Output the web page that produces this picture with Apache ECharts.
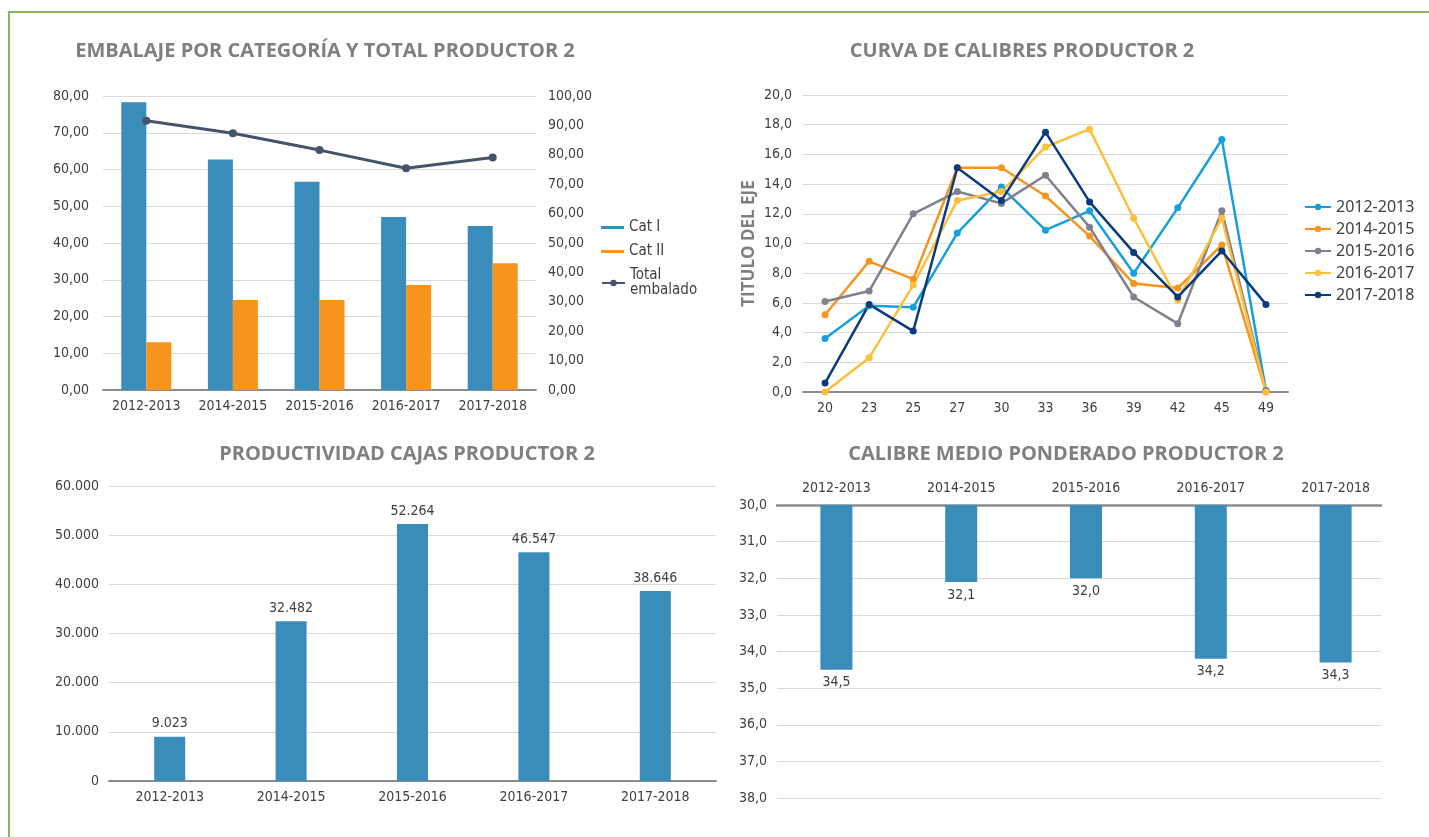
<!DOCTYPE html>
<html>
<head>
<meta charset="utf-8">
<title>Productor 2</title>
<script src="https://cdn.jsdelivr.net/npm/echarts@6/dist/echarts.min.js"></script>
<style>
html, body { margin: 0; padding: 0; background: #fff; }
#marco {
  position: absolute; left: 8px; top: 11px; right: 0; bottom: 0;
  border-left: 2px solid #8db15c; border-top: 2px solid #8db15c;
}
#graficos { position: absolute; left: 0; top: 0; width: 1429px; height: 837px; }
</style>
</head>
<body>
<div id="marco"></div>
<div id="graficos"></div>
<script>
// datos
var temporadas = ["2012-2013", "2014-2015", "2015-2016", "2016-2017", "2017-2018"];
var catI = [78.3, 62.7, 56.7, 47.1, 44.6];
var catII = [13.0, 24.5, 24.5, 28.6, 34.5];
var totalEmbalado = [91.6, 87.3, 81.6, 75.4, 79.1];

var calibres = ["20", "23", "25", "27", "30", "33", "36", "39", "42", "45", "49"];
var curva2012 = [3.6, 5.8, 5.7, 10.7, 13.8, 10.9, 12.2, 8.0, 12.4, 17.0, 0.1];
var curva2014 = [5.2, 8.8, 7.6, 15.1, 15.1, 13.2, 10.5, 7.3, 7.0, 9.9, 0.0];
var curva2015 = [6.1, 6.8, 12.0, 13.5, 12.7, 14.6, 11.1, 6.4, 4.6, 12.2, 0.1];
var curva2016 = [0.0, 2.3, 7.2, 12.9, 13.5, 16.5, 17.7, 11.7, 6.2, 11.7, 0.0];
var curva2017 = [0.6, 5.9, 4.1, 15.1, 12.9, 17.5, 12.8, 9.4, 6.4, 9.5, 5.9];

var productividad = [9023, 32482, 52264, 46547, 38646];
var calibreMedio = [34.5, 32.1, 32.0, 34.2, 34.3];

var texto = "#404040";
var rejilla = "#d9d9d9";
var eje = "#8c8c8c";
var azul = "#3a8dba";
var naranja = "#f7941d";
var fuente = '"Liberation Sans Narrow", "DejaVu Sans Condensed", Roboto, sans-serif';
var fuenteTitulo = '"Open Sans", "Noto Sans", sans-serif';

function coma(v, d) { return Number(v).toFixed(d).replace(".", ","); }
function miles(v) { return String(v).replace(/\B(?=(\d{3})+(?!\d))/g, "."); }

var estiloTitulo = { color: "#7f7f7f", fontFamily: fuenteTitulo, fontWeight: "bold", fontSize: 20 };
var etiqueta = { color: texto, fontFamily: fuente, fontSize: 14 };

function ejeCat(grid, datos, extra) {
  return Object.assign({
    type: "category", gridIndex: grid, data: datos,
    axisLine: { lineStyle: { color: eje, width: 2 } },
    axisTick: { show: false },
    axisLabel: Object.assign({ margin: 9, interval: 0 }, etiqueta)
  }, extra || {});
}

var grafico = echarts.init(document.getElementById("graficos"));

grafico.setOption({
  animation: false,
  title: [
    { text: "EMBALAJE POR CATEGORÍA Y TOTAL PRODUCTOR 2", left: 325, top: 41, textAlign: "center", padding: 0, textStyle: estiloTitulo },
    { text: "CURVA DE CALIBRES PRODUCTOR 2", left: 1022, top: 41, textAlign: "center", padding: 0, textStyle: estiloTitulo },
    { text: "PRODUCTIVIDAD CAJAS PRODUCTOR 2", left: 407, top: 444, textAlign: "center", padding: 0, textStyle: estiloTitulo },
    { text: "CALIBRE MEDIO PONDERADO PRODUCTOR 2", left: 1066, top: 444, textAlign: "center", padding: 0, textStyle: estiloTitulo }
  ],
  legend: [
    {
      data: ["Cat I", "Cat II"], left: 596, top: 215, orient: "vertical",
      icon: "rect", itemWidth: 23, itemHeight: 3, itemGap: 9,
      textStyle: { color: texto, fontFamily: fuente, fontSize: 15 }
    },
    {
      data: ["Total embalado"], left: 596, top: 263, orient: "vertical",
      itemWidth: 23, itemHeight: 8,
      textStyle: { color: texto, fontFamily: fuente, fontSize: 15 },
      formatter: function () { return "Total\nembalado"; }
    },
    {
      data: ["2012-2013", "2014-2015", "2015-2016", "2016-2017", "2017-2018"],
      left: 1299, top: 194, orient: "vertical", itemWidth: 26, itemHeight: 8, itemGap: 6,
      textStyle: { color: texto, fontFamily: '"Noto Sans", "Open Sans", sans-serif', fontSize: 16 }
    }
  ],
  grid: [
    { left: 103, top: 96, width: 433, height: 294 },
    { left: 803, top: 95, width: 485, height: 297 },
    { left: 109, top: 486, width: 607, height: 295 },
    { left: 777, top: 505, width: 604, height: 293 },
    { left: 774, top: 505, width: 624, height: 293 }
  ],
  xAxis: [
    ejeCat(0, temporadas),
    ejeCat(1, calibres),
    ejeCat(2, temporadas),
    ejeCat(3, temporadas, {
      position: "top",
      axisLine: { lineStyle: { color: eje, width: 2.5 } },
      axisLabel: { show: false }
    }),
    ejeCat(4, temporadas, {
      position: "top",
      axisLine: { show: false },
      axisLabel: Object.assign({ margin: 10, interval: 0 }, etiqueta)
    })
  ],
  yAxis: [
    {
      type: "value", gridIndex: 0, min: 0, max: 80, interval: 10,
      splitLine: { lineStyle: { color: rejilla } },
      axisLabel: Object.assign({ margin: 14, formatter: function (v) { return coma(v, 2); } }, etiqueta)
    },
    {
      type: "value", gridIndex: 0, position: "right", min: 0, max: 100, interval: 10,
      splitLine: { show: false },
      axisLabel: Object.assign({ margin: 12, formatter: function (v) { return coma(v, 2); } }, etiqueta)
    },
    {
      type: "value", gridIndex: 1, min: 0, max: 20, interval: 2,
      splitLine: { lineStyle: { color: rejilla } },
      axisLabel: Object.assign({ margin: 11, formatter: function (v) { return coma(v, 1); } }, etiqueta),
      name: "TITULO DEL EJE", nameLocation: "middle", nameRotate: 90, nameGap: 45,
      nameTextStyle: { color: "#7f7f7f", fontFamily: fuenteTitulo, fontWeight: "bold", fontSize: 17 }
    },
    {
      type: "value", gridIndex: 2, min: 0, max: 60000, interval: 10000,
      splitLine: { lineStyle: { color: rejilla } },
      axisLabel: Object.assign({ margin: 10, formatter: miles }, etiqueta)
    },
    {
      type: "value", gridIndex: 3, inverse: true, min: 30, max: 38, interval: 1,
      splitLine: { lineStyle: { color: rejilla } },
      axisLabel: Object.assign({ margin: 10, formatter: function (v) { return coma(v, 1); } }, etiqueta)
    },
    { type: "value", gridIndex: 4, inverse: true, min: 30, max: 38, show: false }
  ],
  series: [
    { name: "Cat I", type: "bar", xAxisIndex: 0, yAxisIndex: 0, barWidth: 25, barGap: "0%", itemStyle: { color: azul }, data: catI },
    { name: "Cat II", type: "bar", xAxisIndex: 0, yAxisIndex: 0, barWidth: 25, barGap: "0%", itemStyle: { color: naranja }, data: catII },
    {
      name: "Total embalado", type: "line", xAxisIndex: 0, yAxisIndex: 1,
      symbol: "circle", symbolSize: 8, lineStyle: { width: 3, color: "#44546a" },
      itemStyle: { color: "#44546a" }, data: totalEmbalado
    },
    { name: "2012-2013", type: "line", xAxisIndex: 1, yAxisIndex: 2, symbol: "circle", symbolSize: 7, lineStyle: { width: 2.5 }, itemStyle: { color: "#16a0db" }, data: curva2012 },
    { name: "2014-2015", type: "line", xAxisIndex: 1, yAxisIndex: 2, symbol: "circle", symbolSize: 7, lineStyle: { width: 2.5 }, itemStyle: { color: "#f7941d" }, data: curva2014 },
    { name: "2015-2016", type: "line", xAxisIndex: 1, yAxisIndex: 2, symbol: "circle", symbolSize: 7, lineStyle: { width: 2.5 }, itemStyle: { color: "#80808e" }, data: curva2015 },
    { name: "2016-2017", type: "line", xAxisIndex: 1, yAxisIndex: 2, symbol: "circle", symbolSize: 7, lineStyle: { width: 2.5 }, itemStyle: { color: "#fdbf3c" }, data: curva2016 },
    { name: "2017-2018", type: "line", xAxisIndex: 1, yAxisIndex: 2, symbol: "circle", symbolSize: 7, lineStyle: { width: 2.5 }, itemStyle: { color: "#0b3b7c" }, data: curva2017 },
    {
      name: "Productividad", type: "bar", xAxisIndex: 2, yAxisIndex: 3, barWidth: 31,
      itemStyle: { color: azul },
      label: Object.assign({ show: true, position: "top", distance: 6, formatter: function (p) { return miles(p.value); } }, etiqueta),
      data: productividad
    },
    {
      name: "Calibre medio", type: "bar", xAxisIndex: 4, yAxisIndex: 5, barWidth: 32,
      itemStyle: { color: azul },
      label: Object.assign({ show: true, position: "bottom", distance: 6, formatter: function (p) { return coma(p.value, 1); } }, etiqueta),
      data: calibreMedio
    }
  ]
});
</script>
</body>
</html>
